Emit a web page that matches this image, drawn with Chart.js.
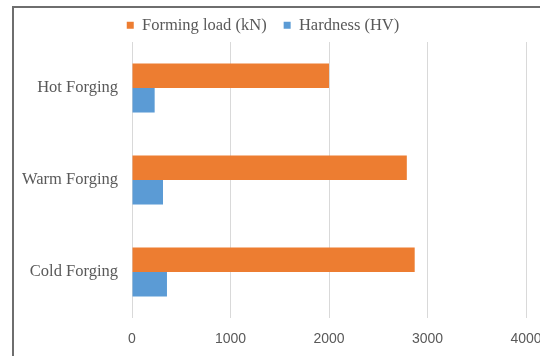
<!DOCTYPE html>
<html>
<head>
<meta charset="utf-8">
<script src="https://cdn.jsdelivr.net/npm/chart.js@4.4.1/dist/chart.umd.min.js"></script>
<style>
  html, body { margin: 0; padding: 0; background: #ffffff; }
  body { width: 540px; height: 356px; overflow: hidden; position: relative; }
  #frame {
    position: absolute; left: 12px; top: 6px;
    width: 700px; height: 500px;
    border: 2px solid #6e6e6e;
    box-sizing: border-box;
  }
  #wrap { position: absolute; left: 0; top: 0; width: 560px; height: 356px; }
</style>
</head>
<body>
<div id="frame"></div>
<div id="wrap"><canvas id="chart"></canvas></div>
<script>
// Forging process comparison
const categories = ['Hot Forging', 'Warm Forging', 'Cold Forging'];
const formingLoad = [2000, 2790, 2870];   // kN
const hardness = [230, 315, 355];         // HV
const xTicks = [0, 1000, 2000, 3000, 4000];

const serif = '"Liberation Serif", "Times New Roman", serif';
const sans = '"Liberation Sans", Arial, sans-serif';
const textColor = '#595959';

// Keep the legend band a fixed height so the plot starts just below it
const legendBand = {
  id: 'legendBand',
  beforeLayout(chart) {
    const lg = chart.legend;
    if (lg && !lg._bandFixed) {
      const fit = lg.fit;
      lg.fit = function () { fit.call(this); this.height = 42; };
      lg._bandFixed = true;
    }
  }
};

new Chart(document.getElementById('chart'), {
  type: 'bar',
  data: {
    labels: categories,
    datasets: [
      {
        label: 'Forming load (kN)',
        data: formingLoad,
        backgroundColor: '#ED7D31',
        borderWidth: 0
      },
      {
        label: 'Hardness (HV)',
        data: hardness,
        backgroundColor: '#5B9BD5',
        borderWidth: 0
      }
    ]
  },
  options: {
    indexAxis: 'y',
    responsive: true,
    maintainAspectRatio: false,
    animation: false,
    categoryPercentage: 0.533,
    barPercentage: 1.0,
    layout: { padding: { left: 0, right: 34, top: 0, bottom: 0 } },
    plugins: {
      legend: {
        position: 'top',
        labels: {
          boxWidth: 7,
          boxHeight: 7,
          padding: 17,
          color: textColor,
          font: { family: serif, size: 16.5 }
        }
      },
      tooltip: { enabled: false }
    },
    scales: {
      x: {
        min: 0,
        max: 4000,
        afterBuildTicks(scale) {
          scale.ticks = xTicks.map(v => ({ value: v }));
        },
        afterFit(scale) { scale.height = 38; },
        grid: { color: '#d9d9d9', lineWidth: 1, drawTicks: false },
        border: { display: false },
        ticks: {
          padding: 13,
          color: textColor,
          font: { family: sans, size: 14 },
          callback: (value) => String(value)
        }
      },
      y: {
        afterFit(scale) { scale.width = 132; },
        grid: { display: false, drawTicks: false },
        border: { display: false },
        ticks: {
          padding: 14,
          color: textColor,
          font: { family: serif, size: 16.5 }
        }
      }
    }
  },
  plugins: [legendBand]
});
</script>
</body>
</html>
